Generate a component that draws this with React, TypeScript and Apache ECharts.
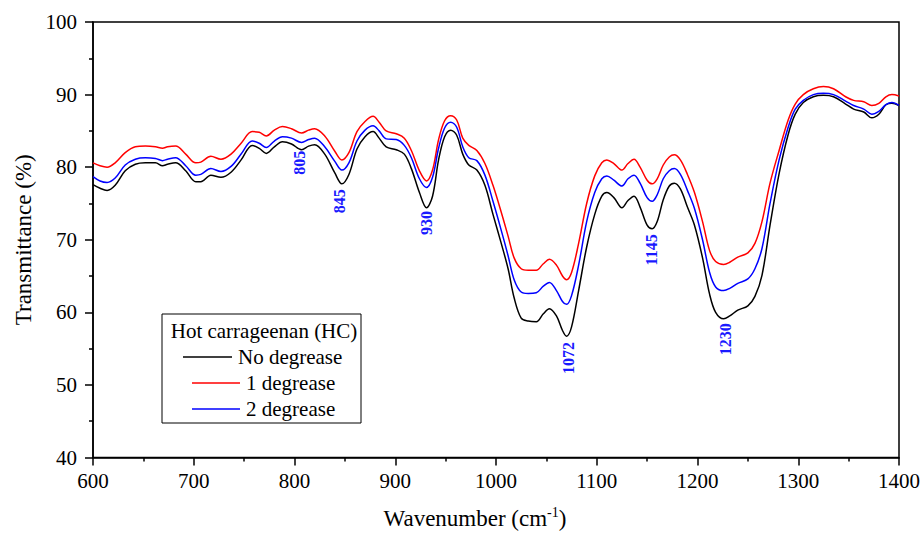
import React, { useEffect, useRef } from "react";
import * as echarts from "echarts";

const wavenumbers = [
  600, 607, 614, 622, 632, 642, 652, 662, 669, 674, 682, 692, 702, 707, 717, 727, 737, 747, 758, 765,
  772, 780, 788, 797, 807, 814, 820, 830, 840, 847, 854, 862, 870, 878, 884, 891, 901, 909, 916, 924,
  931, 937, 943, 949, 955, 961, 967, 973, 981, 989, 997, 1005, 1012, 1018, 1025, 1032, 1040, 1047, 1053, 1060,
  1066, 1070, 1075, 1082, 1090, 1098, 1105, 1110, 1117, 1125, 1131, 1137, 1143, 1150, 1155, 1160, 1166, 1172, 1177, 1183,
  1190, 1197, 1205, 1212, 1218, 1226, 1232, 1240, 1250, 1257, 1264, 1272, 1281, 1290, 1297, 1305, 1315, 1325, 1335, 1347,
  1355, 1365, 1373, 1380, 1387, 1393, 1400,
];

const noDegrease = [
  77.6, 77.1, 76.8, 77.5, 79.5, 80.4, 80.6, 80.6, 80.2, 80.4, 80.6, 79.5, 78.0, 78.0, 78.9, 78.6, 79.3, 81.0, 83.0, 82.6,
  81.9, 82.8, 83.5, 83.2, 82.4, 82.9, 83.1, 81.8, 79.2, 77.7, 79.0, 82.5, 84.2, 84.9, 84.0, 82.8, 82.4, 81.8, 79.8, 76.5,
  74.4, 76.0, 81.0, 84.2, 85.1, 84.4, 81.8, 80.3, 79.6, 77.5, 73.5, 69.6, 66.0, 62.0, 59.2, 58.8, 58.7, 59.8, 60.5, 59.5,
  57.5, 56.7, 58.0, 63.0, 69.0, 73.5, 76.0, 76.5, 75.8, 74.4, 75.4, 76.0, 74.5, 72.0, 71.5, 72.5, 75.5, 77.4, 77.8, 77.0,
  74.5, 72.0, 67.5, 62.5, 60.0, 59.1, 59.5, 60.3, 60.9, 62.2, 65.1, 72.0, 79.1, 84.5, 87.3, 88.9, 89.7, 89.9, 89.7, 88.7,
  88.0, 87.6, 86.8, 87.3, 88.6, 88.8, 88.5,
];

const oneDegrease = [
  80.6, 80.2, 80.0, 80.6, 82.0, 82.8, 82.9, 82.8, 82.6, 82.8, 82.9, 81.8, 80.6, 80.7, 81.5, 81.1, 81.8, 83.3, 84.9, 84.8,
  84.3, 85.1, 85.6, 85.3, 84.7, 85.1, 85.3, 84.3, 82.2, 81.0, 82.0, 84.9, 86.3, 87.0, 86.2, 85.0, 84.6, 84.0, 82.3, 79.5,
  78.1, 79.6, 83.8, 86.4, 87.1, 86.5, 84.0, 83.0, 82.3, 80.5, 77.5, 73.9, 70.5, 67.5, 66.0, 65.8, 65.8, 66.7, 67.3, 66.5,
  65.0, 64.5, 65.5, 69.5, 75.0, 78.8, 80.6, 81.0, 80.5, 79.6, 80.5, 81.1, 80.0, 78.2, 77.7, 78.4, 80.3, 81.4, 81.7, 81.0,
  79.0, 76.5, 72.5, 68.5, 67.0, 66.6, 66.9, 67.6, 68.2, 69.5, 72.5, 77.8, 82.3, 86.5, 88.7, 90.0, 90.8, 91.1, 90.8, 89.7,
  89.2, 89.0, 88.5, 88.8, 89.7, 90.0, 89.8,
];

const twoDegrease = [
  78.7, 78.1, 77.9, 78.5, 80.3, 81.1, 81.3, 81.2, 80.9, 81.1, 81.3, 80.2, 78.9, 79.0, 79.8, 79.4, 80.1, 81.8, 83.6, 83.3,
  82.7, 83.6, 84.2, 84.0, 83.4, 83.8, 84.0, 82.8, 80.8, 79.6, 80.6, 83.6, 85.1, 85.7, 85.0, 83.9, 83.8, 83.0, 81.3, 78.4,
  77.2, 78.6, 82.6, 85.4, 86.2, 85.5, 82.8, 81.3, 80.9, 78.9, 75.3, 71.4, 67.8, 64.5, 62.8, 62.6, 62.7, 63.6, 64.1, 63.0,
  61.5, 61.1, 62.3, 66.5, 72.5, 76.5, 78.4, 78.8, 78.2, 77.4, 78.4, 78.9, 77.8, 75.8, 75.3, 76.2, 78.4, 79.5, 79.8, 79.0,
  76.8, 74.3, 70.0, 65.5, 63.5, 63.0, 63.3, 64.0, 64.6, 66.0, 68.8, 75.0, 81.0, 85.5, 88.0, 89.2, 90.0, 90.2, 90.0, 89.1,
  88.5, 88.0, 87.3, 87.7, 88.6, 88.9, 88.5,
];

const seriesNames = ["No degrease", "1 degrease", "2 degrease"];
const seriesColors = ["#000000", "#ff0000", "#0000ff"];
const legendTitle = "Hot carrageenan (HC)";

const peakLabels = ["805", "845", "930", "1072", "1145", "1230"];
const peakLabelX = [805, 845, 931, 1072, 1154, 1228];
const peakLabelY = [80.6, 75.3, 72.3, 53.7, 68.6, 56.3];

const xTicks = { min: 600, max: 1400, interval: 100 };
const yTicks = { min: 40, max: 100, interval: 10 };

const FONT = "Liberation Serif";

export default function App() {
  const ref = useRef<HTMLDivElement>(null);

  useEffect(() => {
    if (!ref.current) return;
    const chart = echarts.init(ref.current, undefined, { renderer: "svg" });
    const allSeries = [noDegrease, oneDegrease, twoDegrease];

    const series: any[] = allSeries.map((vals, i) => ({
      name: seriesNames[i],
      type: "line",
      data: wavenumbers.map((w, j) => [w, vals[j]]),
      showSymbol: false,
      symbol: "none",
      smooth: 0.35,
      lineStyle: { color: seriesColors[i], width: 1.5 },
      itemStyle: { color: seriesColors[i] },
      z: 2,
    }));

    series[0].markPoint = {
      symbol: "circle",
      symbolSize: 1,
      itemStyle: { color: "rgba(0,0,0,0)" },
      data: peakLabels.map((t, k) => ({
        coord: [peakLabelX[k], peakLabelY[k]],
        value: t,
        label: {
          show: true,
          formatter: t,
          position: "inside",
          rotate: 90,
          color: "#1a1aff",
          fontWeight: "bold",
          fontSize: 16,
          fontFamily: FONT,
        },
      })),
    };

    const legendRows = [
      { y: 357, x1: 183, x2: 232, tx: 238 },
      { y: 383, x1: 192, x2: 240, tx: 246 },
      { y: 409, x1: 192, x2: 240, tx: 246 },
    ];

    const graphic: any[] = [
      {
        type: "rect",
        shape: { x: 162, y: 314, width: 199, height: 109 },
        style: { fill: "#ffffff", stroke: "#000000", lineWidth: 1 },
        z: 10,
      },
      {
        type: "text",
        x: 264,
        y: 331,
        style: {
          text: legendTitle,
          fontSize: 21,
          fontFamily: FONT,
          fill: "#000",
          align: "center",
          verticalAlign: "middle",
        },
        z: 11,
      },
    ];
    legendRows.forEach((r, i) => {
      graphic.push({
        type: "line",
        shape: { x1: r.x1, y1: r.y, x2: r.x2, y2: r.y },
        style: { stroke: seriesColors[i], lineWidth: 1.5 },
        z: 11,
      });
      graphic.push({
        type: "text",
        x: r.tx,
        y: r.y,
        style: {
          text: seriesNames[i],
          fontSize: 21,
          fontFamily: FONT,
          fill: "#000",
          align: "left",
          verticalAlign: "middle",
        },
        z: 11,
      });
    });

    const labelStyle = {
      fontSize: 21,
      fontFamily: FONT,
      color: "#000",
      formatter: (v: number) => String(v),
    };

    chart.setOption({
      animation: false,
      backgroundColor: "#ffffff",
      textStyle: { fontFamily: FONT },
      grid: {
        left: 93,
        right: 23,
        top: 22,
        bottom: 74,
        show: true,
        borderColor: "#000",
        borderWidth: 1.5,
        backgroundColor: "transparent",
      },
      xAxis: {
        type: "value",
        min: xTicks.min,
        max: xTicks.max,
        interval: xTicks.interval,
        name: "{a|Wavenumber (cm}{s|-1}{a|)}",
        nameLocation: "middle",
        nameGap: 48,
        nameTextStyle: {
          fontFamily: FONT,
          padding: [0, 42, 0, 0],
          rich: {
            a: { fontSize: 23, fontFamily: FONT, color: "#000", lineHeight: 26 },
            s: { fontSize: 14, fontFamily: FONT, color: "#000", lineHeight: 14, verticalAlign: "top" },
          },
        },
        axisLine: { show: true, lineStyle: { color: "#000", width: 1.5 } },
        axisTick: { show: true, inside: false, length: 8, lineStyle: { color: "#000", width: 1.5 } },
        minorTick: { show: true, splitNumber: 2, length: 4, lineStyle: { color: "#000", width: 1.5 } },
        splitLine: { show: false },
        axisLabel: { ...labelStyle, margin: 13 },
      },
      yAxis: {
        type: "value",
        min: yTicks.min,
        max: yTicks.max,
        interval: yTicks.interval,
        name: "Transmittance (%)",
        nameLocation: "middle",
        nameGap: 58,
        nameTextStyle: { fontSize: 23, fontFamily: FONT, color: "#000" },
        axisLine: { show: true, lineStyle: { color: "#000", width: 1.5 } },
        axisTick: { show: true, inside: false, length: 8, lineStyle: { color: "#000", width: 1.5 } },
        minorTick: { show: true, splitNumber: 2, length: 4, lineStyle: { color: "#000", width: 1.5 } },
        splitLine: { show: false },
        axisLabel: { ...labelStyle, margin: 16 },
      },
      series,
      graphic,
    });

    return () => {
      chart.dispose();
    };
  }, []);

  return (
    <div
      ref={ref}
      style={{ position: "fixed", left: 0, top: 0, width: 923, height: 535, background: "#fff" }}
    />
  );
}
